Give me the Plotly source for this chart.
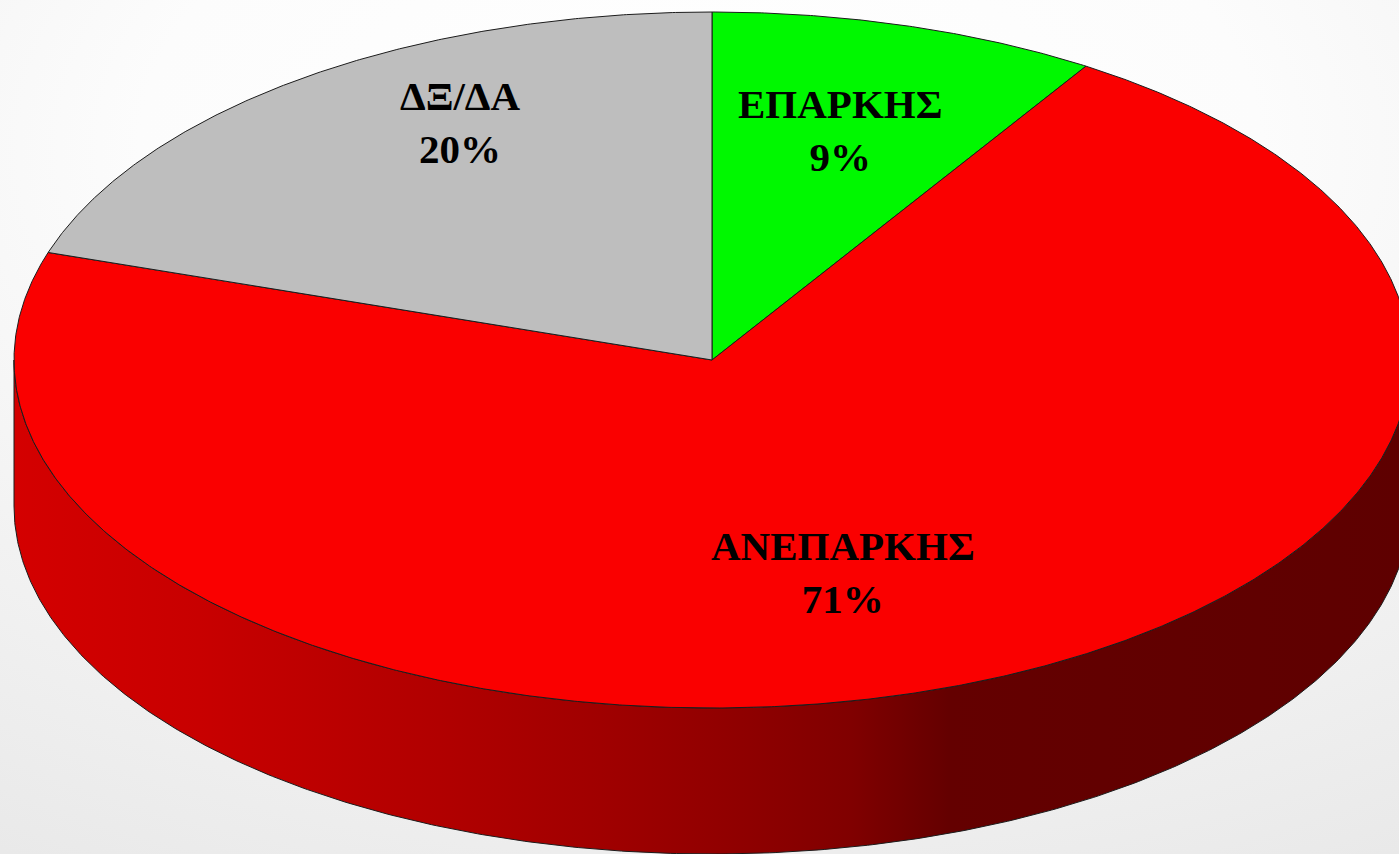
import numpy as np
import plotly.graph_objects as go

# ---- data ----
categories = ["ΕΠΑΡΚΗΣ", "ΑΝΕΠΑΡΚΗΣ", "ΔΞ/ΔΑ"]
values = [9, 71, 20]

# ---- styles / geometry ----
top_colors = ["#00F800", "#FA0000", "#BEBEBE"]
side_scales = [
    [[0, "#00B000"], [1, "#005000"]],
    [[0.0, "#D40000"], [0.133, "#C80000"], [0.312, "#B00000"], [0.42, "#A00000"],
     [0.527, "#8E0000"], [0.6, "#800000"], [0.67, "#640000"], [1.0, "#5E0000"]],
    [[0, "#A0A0A0"], [1, "#505050"]],
]
W, H = 1399, 854
CX, CY, RX, RY, DEPTH = 712, 360, 698, 348, 146
LINE = dict(color="#1c1c1c", width=1)
label_fx = [0.657, 0.554, 0.612]
label_fy = [0.688, 0.650, 0.843]


def pt(theta_deg, dz=0.0):
    t = np.radians(theta_deg)
    return CX + RX * np.sin(t), CY - RY * np.cos(t) + dz


fig = go.Figure()

# background
fig.add_trace(go.Scatter(
    x=[-900, 2300, 2300, -900, -900], y=[-800, -800, 1100, 1100, -800],
    mode="lines", line=dict(width=0), fill="toself",
    fillgradient=dict(type="radial", colorscale=[[0, "#FFFFFF"], [0.35, "#FCFCFC"], [0.6, "#F2F2F2"], [1, "#E4E4E4"]]),
    hoverinfo="skip", showlegend=False))

total = float(sum(values))
angles = np.concatenate([[0], np.cumsum(values) / total * 360.0])

# side walls (front half: 90..270 deg clockwise from top)
for i, v in enumerate(values):
    a0, a1 = angles[i], angles[i + 1]
    lo, hi = max(a0, 90.0), min(a1, 270.0)
    if hi <= lo:
        continue
    th = np.linspace(lo, hi, 400)
    xt, yt = pt(th)
    xb, yb = pt(th[::-1], DEPTH)
    xs = np.concatenate([xt, xb, [xt[0]]])
    ys = np.concatenate([yt, yb, [yt[0]]])
    fig.add_trace(go.Scatter(
        x=xs, y=ys, mode="lines", line=LINE, fill="toself",
        fillgradient=dict(type="horizontal", colorscale=side_scales[i], start=CX - RX, stop=CX + RX),
        hoverinfo="skip", showlegend=False))

# top faces
for i, v in enumerate(values):
    a0, a1 = angles[i], angles[i + 1]
    th = np.linspace(a0, a1, max(int((a1 - a0) * 4), 20))
    xa, ya = pt(th)
    xs = np.concatenate([[CX], xa, [CX]])
    ys = np.concatenate([[CY], ya, [CY]])
    fig.add_trace(go.Scatter(
        x=xs, y=ys, mode="lines", line=LINE, fill="toself",
        fillcolor=top_colors[i], hoverinfo="skip", showlegend=False))

# labels
annotations = []
for i, (c, v) in enumerate(zip(categories, values)):
    mid = np.radians((angles[i] + angles[i + 1]) / 2)
    lx = CX + RX * label_fx[i] * np.sin(mid)
    ly = CY - RY * label_fy[i] * np.cos(mid)
    pct = round(v / total * 100)
    annotations.append(dict(
        x=lx, y=ly, xref="x", yref="y", showarrow=False,
        text=f"<b>{c}<br>{pct}%</b>", align="center",
        xanchor="center", yanchor="middle",
        font=dict(family="Liberation Serif, Times New Roman, serif", size=41, color="#000000")))

fig.update_layout(
    width=W, height=H, margin=dict(l=0, r=0, t=0, b=0),
    paper_bgcolor="#F6F6F6", plot_bgcolor="rgba(0,0,0,0)",
    xaxis=dict(range=[0, W], visible=False, fixedrange=True),
    yaxis=dict(range=[H, 0], visible=False, fixedrange=True),
    annotations=annotations, showlegend=False,
)

fig.write_html("out.html", config={"displayModeBar": False},
               post_script="document.body.style.margin='0';document.body.style.overflow='hidden';")
